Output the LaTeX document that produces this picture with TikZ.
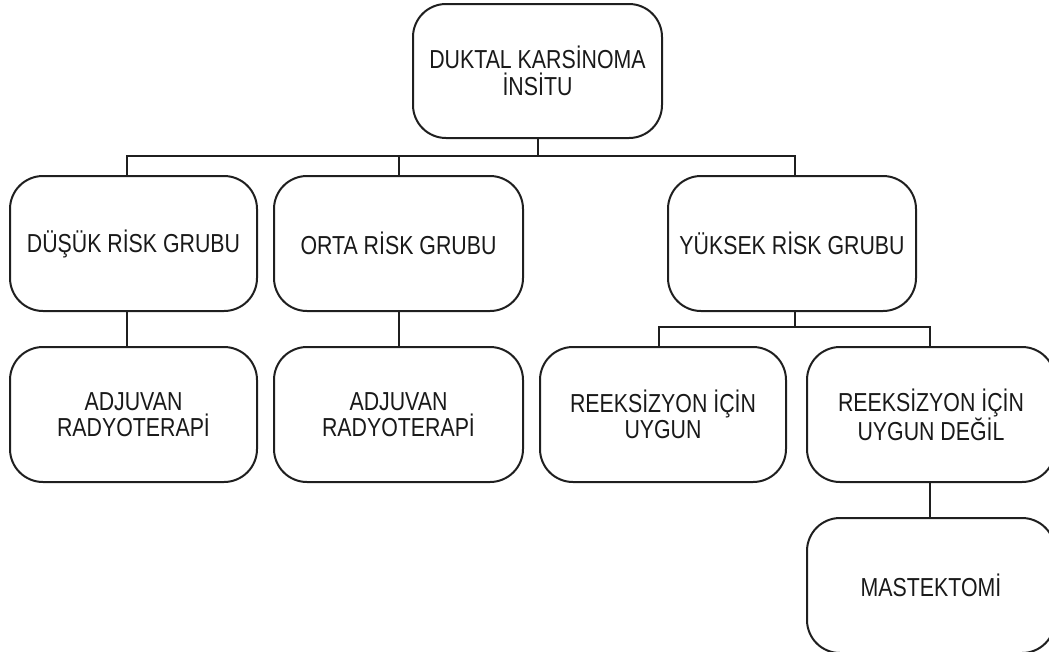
\documentclass[tikz,border=0pt]{standalone}
\usepackage{fontspec}
\setmainfont{Liberation Sans}[FakeStretch=0.82]
\begin{document}
\begin{tikzpicture}[x=1pt,y=-1pt,
  box/.style={draw=black!88, line width=2pt, rounded corners=33pt, minimum height=135pt,
    align=center, inner sep=0pt, text=black!90, font=\fontsize{26}{26.5}\selectfont},
  conn/.style={draw=black!88, line width=2pt}]
\useasboundingbox (0,0) rectangle (1049,651);
\clip (0,0) rectangle (1049,651);
\node[box, minimum width=249pt, minimum height=134pt] (top) at (537.5,71) {DUKTAL KARSİNOMA\\İNSİTU};
\node[box, minimum width=247pt] (d) at (133.5,243.5) {DÜŞÜK RİSK GRUBU};
\node[box, minimum width=249pt] (o) at (398.5,243.5) {ORTA RİSK GRUBU};
\node[box, minimum width=248pt] (y) at (792,243.5) {YÜKSEK RİSK GRUBU};
\node[box, minimum width=247pt] (a1) at (133.5,414.5) {ADJUVAN\\RADYOTERAPİ};
\node[box, minimum width=249pt] (a2) at (398.5,414.5) {ADJUVAN\\RADYOTERAPİ};
\node[box, minimum width=246pt] (r1) at (663,414.5) {REEKSİZYON İÇİN\\UYGUN};
\node[box, minimum width=248pt] (r2) at (931,414.5) {REEKSİZYON İÇİN\\UYGUN DEĞİL};
\node[box, minimum width=248pt] (m) at (931,585.5) {MASTEKTOMİ};
\coordinate (h1) at (127,156);
\coordinate (h2) at (795,156);
\coordinate (h3) at (659,327);
\coordinate (h4) at (930,327);
\draw[conn] (top.south) -- (top.south |- h1);
\draw[conn] (d.north -| h1) -- (h1) -- (h2) -- (y.north -| h2);
\draw[conn] (o.north) -- (o.north |- h1);
\draw[conn] (d.south -| h1) -- (a1.north -| h1);
\draw[conn] (o.south) -- (a2.north);
\draw[conn] (y.south -| h2) -- (h2 |- h3);
\draw[conn] (r1.north -| h3) -- (h3) -- (h4) -- (r2.north -| h4);
\draw[conn] (r2.south -| h4) -- (m.north -| h4);
\end{tikzpicture}
\end{document}
